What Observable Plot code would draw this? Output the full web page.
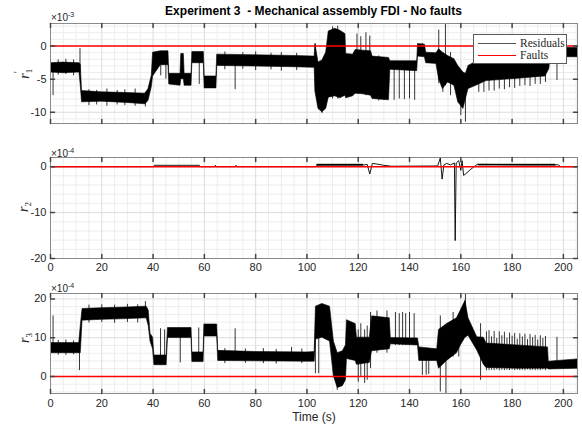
<!DOCTYPE html>
<html><head><meta charset="utf-8">
<script src="https://cdn.jsdelivr.net/npm/d3@7"></script>
<script src="https://cdn.jsdelivr.net/npm/@observablehq/plot@0.6"></script>
<style>
body{margin:0;background:#fff;}
#wrap{position:relative;width:582px;height:428px;overflow:hidden;font-family:"Liberation Sans",Arial,sans-serif;color:#262626;}
.p{position:absolute;left:0;}
.ov{position:absolute;white-space:pre;line-height:1;}
.exp{font-size:10px;}
.exp sup{font-size:7px;vertical-align:4px;}
.yl{position:absolute;transform:translate(-50%,-50%) rotate(-90deg);font-family:"Liberation Serif","DejaVu Serif",serif;font-size:14px;white-space:nowrap;line-height:1;}
.yl i{font-style:italic;}
.sub{font-size:9px;font-style:normal;position:relative;top:3px;}
.pr{font-size:10px;font-style:normal;position:absolute;left:0;top:-5px;}
#legend{position:absolute;left:473px;top:34px;width:92px;height:28px;background:#fff;border:1px solid #5a5a5a;font-family:"Liberation Serif","DejaVu Serif",serif;font-size:11.5px;color:#262626;}
#legend .row{position:absolute;left:4px;height:12px;line-height:12px;display:flex;align-items:center;white-space:nowrap;}
#legend .sw{width:38px;height:0;margin-right:4px;}
</style></head><body><div id="wrap"></div>
<script>
// ---------- data ----------
const xMajor = [0, 20, 40, 60, 80, 100, 120, 140, 160, 180, 200];
const xMinor = [5,10,15,25,30,35,45,50,55,65,70,75,85,90,95,105,110,115,125,130,135,145,150,155,165,170,175,185,190,195,205];
const xTickLabels = ["0","20","40","60","80","100","120","140","160","180","200"];

// Panel 1: r'_1 (x10^-3) dense band envelope
const band1T  = [0,5,11.3,11.8,12.3,20,30,37,38.2,39.5,40.0,43,46,46.3,50.7,51,52,52.3,55,55.3,59.8,60.1,64.7,65.0,80,95,103,103.3,104.5,106,107.5,108.5,111,113,115,115.3,118,119,122,125,125.6,132,132.5,138,143,143.3,146,146.5,150.5,151.5,153,155,157.5,159,161,162,163,166,170,180,193,194.5,195,205.5];
const band1Lo = [-4.0,-4.1,-4.0,-6.0,-8.5,-8.4,-8.6,-8.8,-8.3,-6.2,-4.6,-2.9,-2.9,-5.8,-6.0,-5.0,-5.0,-6.0,-6.0,-2.6,-2.6,-6.4,-6.4,-3.0,-3.1,-3.2,-3.3,-6.9,-9.5,-10.0,-9.5,-7.8,-7.6,-7.9,-7.5,-7.9,-7.6,-7.2,-7.3,-7.5,-8.0,-8.2,-3.6,-3.7,-3.8,-1.6,-1.7,-2.6,-2.7,-5.0,-6.5,-5.5,-6.0,-8.5,-9.5,-8.0,-6.5,-6.0,-5.3,-5.0,-4.6,-3.5,-1.7,-1.7];
const band1Hi = [-2.6,-2.5,-2.6,-2.8,-6.8,-7.0,-7.1,-7.2,-6.5,-4.5,-1.0,-0.8,-0.8,-4.2,-4.2,-1.2,-1.2,-4.2,-4.2,-0.9,-0.9,-4.6,-4.6,-1.3,-1.4,-1.5,-1.6,0.3,-2.5,-2.2,-1.0,2.2,2.6,2.3,1.8,-1.2,-1.3,-0.6,-0.7,-0.8,-1.6,-1.8,-2.3,-2.3,-2.3,0.3,0.2,-1.0,-1.1,-0.5,-1.0,-1.5,-2.0,-3.0,-4.0,-4.2,-3.0,-2.4,-2.4,-2.4,-2.3,-2.3,-0.3,-0.3];
// Panel 1 spikes
const spk1T  = [1.0,3,6,9,11.5,15,18,22,26,29,33,37,43,45,58,68,72,75,80,86,90,96,103.3,105.9,110,112,119.5,121,123,124.5,128,130,134,136,138,140,142,145,151.4,153,154,156,160,161.8,167,169,171,173,175,177,179,181,183,185,187,189,191,193,197.5];
const spk1Lo = [-7.5,-4.4,-4.3,-4.5,-4,-9.0,-8.9,-9.1,-8.9,-9.0,-9.1,-9.2,-4.5,-5,-5.8,-3.6,-6.6,-3.5,-3.7,-3.6,-3.8,-3.7,-6.9,-10.2,-8,-8,-7,-7,-7.5,-7.5,-8.3,-8.2,-8.2,-8,-8.1,-8,-8.2,-1.5,-5.7,-7,-6,-7.5,-10.5,-11.5,-7,-7,-6.8,-6.8,-6.5,-6.6,-6.3,-6.4,-6.1,-6.0,-6.1,-5.8,-5.8,-5.5,-5.2];
const spk1Hi = [-3,-2.1,-2.0,-2.1,-0.4,-6.6,-6.7,-6.5,-6.7,-6.6,-6.5,-7,-1,-1,-1,-0.9,-2,-1.0,-0.9,-1.1,-1.0,-1.1,0.3,-3,2.9,3.0,1.8,1.4,2.0,1.5,-1.5,-2,-2.5,-2.5,-2.5,-2.5,-2.5,0.4,2.4,-1,3.4,-1,-4,-5,-2.5,-2.5,-2.5,-2.5,-2.5,-2.5,-2.5,-2.5,-2.5,-2.5,-2.5,-2.5,-2.5,-2.5,-1];

// Panel 2: r_2 (x10^-4) trace
const line2T = [0,40,40.5,58,58.5,64,64.3,64.6,72,72.3,72.6,103.5,104,122,123.5,124.5,125.5,127,130,133,150,151,152,152.7,153.4,154.5,156,157.5,157.8,158.2,159.2,160,160.5,161.1,162,164,166.4,170,185,198,199,205.5];
const line2V = [0,0,0.3,0.3,0,0,0.3,0,0,0.3,0,0,0.35,0.35,0.5,-1.6,0.7,0.6,0.3,0.1,0.15,0.2,1.9,-2.7,0.4,0.7,0.4,0.8,-16.1,0.8,1.3,-0.8,1.3,-1.9,-1.5,-0.5,0.5,0.5,0.4,0.4,0,0];
const band2Seg = [0,0,1,1];
const band2T  = [104,122,167,197];
const band2Lo = [0.2,0.2,0.2,0.2];
const band2Hi = [0.5,0.5,0.5,0.5];

// Panel 3: r_3 (x10^-4) dense band envelope
const band3T  = [0,11.2,11.8,12.5,20,30,37.5,38.3,39.0,40.0,40.5,45.3,45.8,55.0,55.3,59.7,60.0,65.0,65.4,80,100,103,103.5,106,109,110.5,112,114,115.2,115.6,119,119.5,124.5,125.4,132.3,132.7,143.3,143.8,150.8,151.5,154.6,158.5,160,161.8,163,166.4,169,170,182,194,194.3,205.5];
const band3Lo = [6.0,6.0,6.0,14.4,14.6,14.8,15.0,13.0,9.0,7.0,2.9,2.9,9.9,9.9,3.7,3.7,10.3,10.3,4.0,3.9,3.8,3.8,9.5,10.0,9.0,0.0,-3.0,-2.5,-1.0,4.5,4.0,3.0,3.5,6.5,7.0,8.3,8.0,4.0,4.0,2.0,4.0,6.0,8.0,10.0,10.5,6.7,3.0,2.2,2.0,2.0,1.8,2.0];
const band3Hi = [8.6,8.6,13.0,17.4,17.6,17.8,18.0,17.0,11.0,10.0,5.4,5.4,12.5,12.5,6.2,6.2,13.4,13.4,6.6,6.3,6.2,6.3,18.0,18.7,18.0,9.0,6.0,6.5,8.0,14.5,13.5,10.0,10.0,15.5,15.0,9.9,9.8,7.5,7.0,12.0,13.5,15.0,17.0,19.5,15.0,10.1,10.0,8.5,8.0,7.5,3.8,4.4];
// Panel 3 spikes
const spk3T  = [1,3,6,9,11.3,15,20,25,30,34,37,42.9,44.5,50.6,57.8,68,72,76,83,88,94,98,103.3,104.6,111.8,120,121,122.5,123.5,124.8,127.3,131.2,134.5,136,137.3,138.5,140,141.8,145,146.5,147.5,152,154.2,157,159.2,161.8,167.7,170,171,172,173,174,175,176,177,178,179,180,181,182,183,184,185,186,187,188,189,190,191,192,193,197.5];
const spk3Lo = [7,5.5,5.4,5.6,1.5,13.8,13.9,13.7,13.9,13.8,15,3,3,3.5,3.7,3.3,4,3.4,3.3,3.2,4,3.3,0.7,0.7,-3.6,-1.5,0,-1.8,-1.0,2,6,6,8,8,8,8,8,8,0.3,0.3,0.5,-4.0,-4.4,5,5,10,-1,1.5,1.5,1.6,1.5,1.7,1.5,1.6,1.5,1.6,1.5,1.7,1.5,1.6,1.5,1.6,1.5,1.7,1.5,1.6,1.5,1.6,1.5,1.7,1.5,2];
const spk3Hi = [15.6,9.3,9.4,9.2,8,18.4,18.5,18.4,18.6,18.5,19.3,12.3,12,12,12.5,7.2,12.3,7.1,7.2,7.0,7.5,7.1,12,12,3,12,13.6,12,13,16.5,16.9,16.9,16.5,16.2,16.5,16.2,16.5,16.2,6,6,6,15.6,13,16.5,12,21.4,13.6,11.5,11.8,10.2,11.6,9.8,11.5,10.5,11.4,9.9,11.2,10.4,11.1,9.6,11.0,10.2,10.9,9.5,10.8,10.0,10.6,9.4,10.5,9.8,10.3,10.1];

// ---------- helpers ----------
const rows3 = (T, A, B, S) => T.map((t, i) => ({t, lo: A[i], hi: B[i], seg: S ? S[i] : 0}));
const rows2 = (T, V) => T.map((t, i) => ({t, v: V[i]}));
const tickShape = {draw(ctx, l) { ctx.moveTo(0, 0); ctx.lineTo(0, -l); }};
const fmt = d => String(d);

function panel({top, height, mt, mb, yDomain, yMajor, yMinor, band, spikes, line, xLabels, padX, bandStroke = 0.6}) {
  const marks = [
    Plot.ruleX(xMinor, {x: d => d, stroke: "#ededed", strokeWidth: 1}),
    Plot.ruleY(yMinor, {y: d => d, stroke: "#ededed", strokeWidth: 1}),
    Plot.ruleX(xMajor, {x: d => d, stroke: "#dcdcdc", strokeWidth: 1}),
    Plot.ruleY(yMajor, {y: d => d, stroke: "#dcdcdc", strokeWidth: 1}),
  ];
  if (band) marks.push(Plot.areaY(band, {x: "t", y1: "lo", y2: "hi", z: "seg", fill: "#000", stroke: "#000", strokeWidth: bandStroke, clip: true}));
  if (spikes) marks.push(Plot.ruleX(spikes, {x: "t", y1: "lo", y2: "hi", stroke: "#000", strokeWidth: 0.8, clip: true}));
  if (line) marks.push(Plot.line(line, {x: "t", y: "v", stroke: "#000", strokeWidth: 0.9, clip: true}));
  marks.push(
    Plot.ruleY([0], {y: d => d, stroke: "#ff0000", strokeWidth: 1.5}),
    Plot.frame({stroke: "#8a8a8a", strokeWidth: 1}),
    Plot.vector(xMajor, {x: d => d, frameAnchor: "bottom", rotate: 0, length: 4, anchor: "start", shape: tickShape, stroke: "#444"}),
    Plot.vector(xMajor, {x: d => d, frameAnchor: "top", rotate: 180, length: 4, anchor: "start", shape: tickShape, stroke: "#444"}),
    Plot.vector(yMajor, {y: d => d, frameAnchor: "left", rotate: 90, length: 4, anchor: "start", shape: tickShape, stroke: "#444"}),
    Plot.vector(yMajor, {y: d => d, frameAnchor: "right", rotate: 270, length: 4, anchor: "start", shape: tickShape, stroke: "#444"}),
    Plot.axisY(yMajor, {tickSize: 0, tickPadding: 4, tickFormat: fmt, label: null, fontSize: 11, color: "#262626"})
  );
  if (xLabels) marks.push(Plot.axisX(xMajor, {tickSize: 0, tickPadding: padX, tickFormat: (d, i) => xTickLabels[i], label: null, fontSize: 11, color: "#262626"}));
  const svg = Plot.plot({
    width: 582, height, marginTop: mt, marginBottom: mb, marginLeft: 50, marginRight: 5,
    x: xLabels ? {domain: [0, 205.5], label: null} : {domain: [0, 205.5], label: null, axis: null},
    y: {domain: yDomain, label: null},
    style: {fontFamily: "Liberation Sans, Arial, sans-serif", background: "transparent", overflow: "visible"},
    marks
  });
  svg.classList.add("p");
  svg.style.top = top + "px";
  return svg;
}

const wrap = document.getElementById("wrap");
wrap.appendChild(panel({top: 0, height: 135, mt: 23, mb: 12, yDomain: [-11.7, 3.4], yMajor: [-10, -5, 0],
  yMinor: [-11,-9,-8,-7,-6,-4,-3,-2,-1,1,2,3],
  band: rows3(band1T, band1Lo, band1Hi), spikes: rows3(spk1T, spk1Lo, spk1Hi), xLabels: false}));
wrap.appendChild(panel({top: 135, height: 145, mt: 22, mb: 22, yDomain: [-20, 2], yMajor: [-20, -10, 0],
  yMinor: [-18,-16,-14,-12,-8,-6,-4,-2],
  band: rows3(band2T, band2Lo, band2Hi, band2Seg), line: rows2(line2T, line2V), xLabels: true, padX: 5, bandStroke: 0.3}));
wrap.appendChild(panel({top: 280, height: 148, mt: 13, mb: 35, yDomain: [-4.4, 21.4], yMajor: [0, 10, 20],
  yMinor: [-4,-2,2,4,6,8,12,14,16,18],
  band: rows3(band3T, band3Lo, band3Hi), spikes: rows3(spk3T, spk3Lo, spk3Hi), xLabels: true, padX: 6}));

// ---------- text overlays ----------
const html = `
<div class="ov" style="left:313.5px;top:5px;transform:translateX(-50%);font-weight:bold;font-size:12px;color:#000">Experiment 3  - Mechanical assembly FDI - No faults</div>
<div class="ov exp" style="left:51px;top:11px">×10<sup>-3</sup></div>
<div class="ov exp" style="left:51px;top:147px">×10<sup>-4</sup></div>
<div class="ov exp" style="left:51px;top:282px">×10<sup>-4</sup></div>
<div class="yl" style="left:25px;top:73px"><i>r</i><span style="position:relative;display:inline-block;width:6px"><span class="pr">′</span><span class="sub">1</span></span></div>
<div class="yl" style="left:24px;top:207px"><i>r</i><span class="sub">2</span></div>
<div class="yl" style="left:25px;top:338px"><i>r</i><span class="sub">3</span></div>
<div class="ov" style="left:314px;top:411px;transform:translateX(-50%);font-size:12px">Time (s)</div>
<div id="legend">
  <div class="row" style="top:2px"><div class="sw" style="border-top:1px solid #555"></div><span>Residuals</span></div>
  <div class="row" style="top:14px"><div class="sw" style="border-top:1.5px solid #ff0000"></div><span>Faults</span></div>
</div>`;
wrap.insertAdjacentHTML("beforeend", html);
</script></body></html>
